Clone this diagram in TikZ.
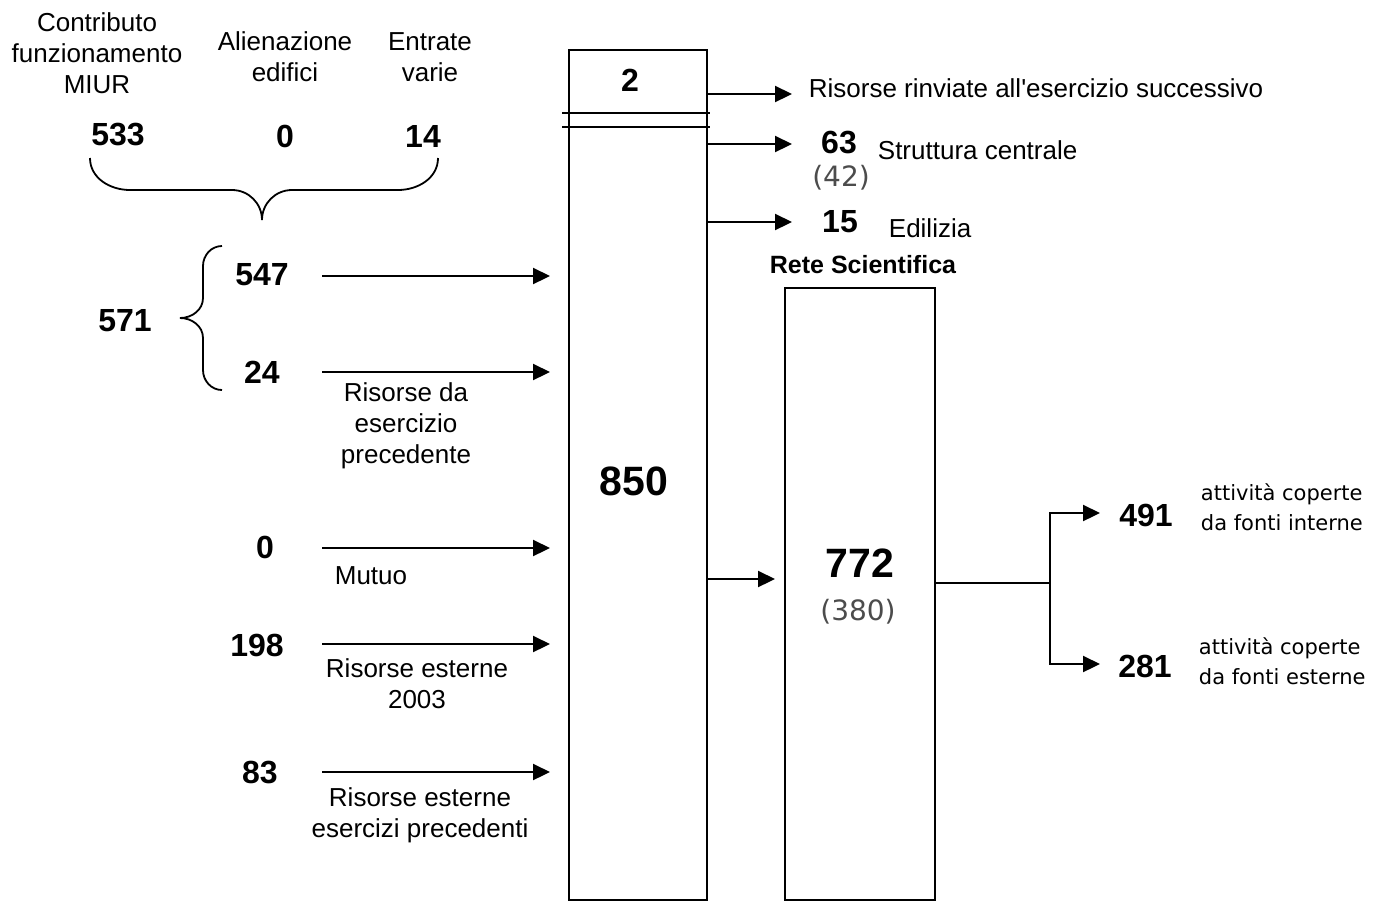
\documentclass[tikz,border=0pt]{standalone}
\usepackage{fontspec}
\setmainfont{Liberation Sans}
\newfontfamily\tahfont{DejaVu Sans}
\usetikzlibrary{arrows.meta}

\begin{document}
\begin{tikzpicture}[x=0.5pt,y=-0.5pt,line width=0.9pt,
  arr/.style={line width=1.1pt,-{Triangle[length=8.5pt,width=8pt]}},
  lbl/.style={align=center,font=\fontsize{13}{15.5}\selectfont,inner sep=0pt},
  num/.style={font=\fontsize{16}{19}\selectfont\bfseries,inner sep=0pt},
  big/.style={font=\fontsize{20.5}{24}\selectfont\bfseries,inner sep=0pt},
  note/.style={font=\tahfont\fontsize{10.5}{15}\selectfont,align=left,inner sep=0pt,anchor=west},
  paren/.style={font=\tahfont\fontsize{14}{16}\selectfont,text=black!70,inner sep=0pt}]
\useasboundingbox (0,0) rectangle (1375,901);

% headings of the incomes
\node[lbl] (miur) at (97,53) {Contributo\\funzionamento\\MIUR};
\node[lbl] (alien) at (285,57) {Alienazione\\edifici};
\node[lbl] (entr) at (430,57) {Entrate\\varie};
\node[num] (n533) at (118,134) {533};
\node[num] (n0a) at (285,136) {0};
\node[num] (n14) at (423,136) {14};
\draw (90,158) to[out=-90,in=180] (130,190) -- (232,190)
  to[out=0,in=90] (262,220) to[out=90,in=180] (292,190) -- (398,190)
  to[out=0,in=-90] (438,158);

% left column
\node[num] (n571) at (125,321) {571};
\node[num] (n547) at (262,275) {547};
\node[num] (n24) at (262,372) {24};
\node[num] (n0b) at (265,547) {0};
\node[num] (n198) at (257,645) {198};
\node[num] (n83) at (260,772) {83};
\draw (222,246) to[out=180,in=90] (203,266) -- (203,298)
  to[out=-90,in=0] (180,318) to[out=0,in=90] (203,338) -- (203,370)
  to[out=-90,in=180] (222,390);

% main box
\node[draw,minimum width=69pt,minimum height=425pt,inner sep=0pt] (tot) at (638,475) {};
\draw (562,113) -- (710,113);
\draw (562,127) -- (710,127);
\node[num] (n2) at (630,80) {2};
\node[big] (n850) at (634,481) {850};

% incoming arrows
\foreach \y/\nm in {276/547,372/24,548/0b,644/198,772/83} {
  \coordinate (s\nm) at (322,\y);
  \coordinate (t\nm) at (550,\y);
  \draw[arr] (s\nm) -- (t\nm);
}
\node[lbl] (prec) at (406,426) {Risorse da\\esercizio\\precedente};
\node[lbl] (mutuo) at (371,576) {Mutuo};
\node[lbl] (est03) at (417,684) {Risorse esterne\\2003};
\node[lbl] (estpr) at (420,815) {Risorse esterne\\esercizi precedenti};

% outgoing arrows
\coordinate (o1) at (792,94);
\coordinate (o2) at (792,144);
\coordinate (o3) at (792,222);
\foreach \c in {o1,o2,o3}
  \draw[arr] (tot.east |- \c) -- (\c);
\node[lbl,anchor=west] (rinv) at (808,88) {Risorse rinviate all\textquotesingle esercizio successivo};
\node[num] (n63) at (839,143) {63};
\node[lbl,anchor=west] (strutt) at (877,150) {Struttura centrale};
\node[paren] (n42) at (841,178) {(42)};
\node[num] (n15) at (840,222) {15};
\node[lbl,anchor=west] (edil) at (888,228) {Edilizia};

% rete scientifica
\node[font=\fontsize{12.5}{15}\selectfont\bfseries,inner sep=0pt] (rete) at (863,265) {Rete Scientifica};
\node[draw,minimum width=75pt,minimum height=306pt,inner sep=0pt] (rs) at (860,594) {};
\node[big] (n772) at (860,563) {772};
\node[paren] (n380) at (858,612) {(380)};
\coordinate (in) at (775,579);
\draw[arr] (tot.east |- in) -- (in);

% split
\coordinate (fork) at (1050,583);
\coordinate (e1) at (1100,513);
\coordinate (e2) at (1100,664);
\draw (rs.east |- fork) -- (fork);
\draw[arr] (fork) |- (e1);
\draw[arr] (fork) |- (e2);
\node[num] (n491) at (1146,515) {491};
\node[num] (n281) at (1145,666) {281};
\node[note] (int) at (1200,507) {attività coperte\\da fonti interne};
\node[note] (ext) at (1198,661) {attività coperte\\da fonti esterne};
\end{tikzpicture}
\end{document}
